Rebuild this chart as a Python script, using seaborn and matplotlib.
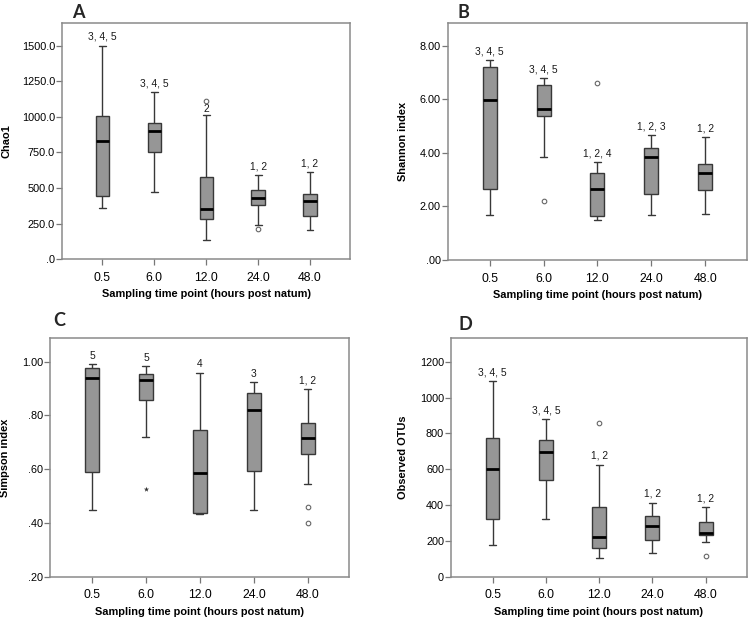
import pandas as pd
import seaborn as sns
import matplotlib.pyplot as plt

times = ["0.5", "6.0", "12.0", "24.0", "48.0"]

# A - Chao1 (whisker low, Q1, median, Q3, whisker high)
chao_lo = [357, 469, 138, 240, 203]
chao_q1 = [443, 756, 280, 382, 303]
chao_med = [830, 902, 354, 431, 408]
chao_q3 = [1005, 954, 578, 487, 455]
chao_hi = [1500, 1175, 1014, 592, 609]
chao_out_t = ["12.0", "24.0"]
chao_out_v = [1110, 212]
chao_sig = ["3, 4, 5", "3, 4, 5", "2", "1, 2", "1, 2"]

# B - Shannon
shan_lo = [1.69, 3.86, 1.50, 1.69, 1.73]
shan_q1 = [2.66, 5.40, 1.66, 2.45, 2.63]
shan_med = [5.99, 5.63, 2.67, 3.84, 3.25]
shan_q3 = [7.20, 6.55, 3.27, 4.20, 3.59]
shan_hi = [7.47, 6.80, 3.65, 4.67, 4.60]
shan_out_t = ["6.0", "12.0"]
shan_out_v = [2.22, 6.63]
shan_sig = ["3, 4, 5", "3, 4, 5", "1, 2, 4", "1, 2, 3", "1, 2"]

# C - Simpson
simp_lo = [0.447, 0.720, 0.432, 0.447, 0.546]
simp_q1 = [0.588, 0.857, 0.438, 0.595, 0.655]
simp_med = [0.941, 0.931, 0.584, 0.819, 0.717]
simp_q3 = [0.976, 0.956, 0.746, 0.885, 0.772]
simp_hi = [0.990, 0.983, 0.959, 0.923, 0.898]
simp_out_t = ["48.0", "48.0"]
simp_out_v = [0.458, 0.400]
simp_ext_t = ["6.0"]
simp_ext_v = [0.525]
simp_sig = ["5", "5", "4", "3", "1, 2"]

# D - Observed OTUs
otu_lo = [178, 321, 103, 135, 191]
otu_q1 = [321, 540, 163, 206, 231]
otu_med = [600, 694, 221, 281, 246]
otu_q3 = [776, 763, 388, 341, 306]
otu_hi = [1093, 881, 626, 414, 388]
otu_out_t = ["12.0", "48.0"]
otu_out_v = [857, 118]
otu_sig = ["3, 4, 5", "3, 4, 5", "1, 2", "1, 2", "1, 2"]

sns.set_theme(style="white")
plt.rcParams["font.family"] = ["Liberation Sans", "DejaVu Sans"]

W, H = 753, 621
fig = plt.figure(figsize=(W / 100, H / 100), dpi=100)


def box_df(lo, q1, med, q3, hi):
    rows = []
    for i, t in enumerate(times):
        for v in (lo[i], q1[i], med[i], q3[i], hi[i]):
            rows.append({"time": t, "value": v})
    return pd.DataFrame(rows)


def fmt(v, nd):
    s = f"{v:.{nd}f}"
    if s.startswith("0."):
        s = s[1:]
    return s


def panel(rect, letter, letter_xy, stats, out_t, out_v, sig, ylabel,
          ylim, yticks, nd, ylab_x, ext_t=None, ext_v=None):
    ax = fig.add_axes([rect[0] / W, 1 - rect[3] / H,
                       (rect[2] - rect[0]) / W, (rect[3] - rect[1]) / H])
    df = box_df(*stats)
    sns.boxplot(data=df, x="time", y="value", order=times, whis=(0, 100),
                width=0.26, color="#969696", saturation=1,
                linecolor="#383838", linewidth=1.0, fliersize=0,
                medianprops=dict(color="black", linewidth=2.0), ax=ax)
    sns.stripplot(x=out_t, y=out_v, order=times, jitter=False, marker="o",
                  size=3.3, color="white", edgecolor="#666666",
                  linewidth=0.8, ax=ax, zorder=4)
    if ext_t:
        sns.stripplot(x=ext_t, y=ext_v, order=times, jitter=False,
                      marker="*", size=4, color="#333333", ax=ax, zorder=4)
    hi = stats[4]
    span = ylim[1] - ylim[0]
    for i, t in enumerate(times):
        close = [v for tt, v in zip(out_t, out_v)
                 if tt == t and 0 < v - hi[i] < 0.1 * span]
        off = 4.2 if close else 6.3
        ax.annotate(sig[i], xy=(i, hi[i]), xytext=(0, off),
                    textcoords="offset points", ha="center", va="center",
                    fontsize=7.4, color="#1a1a1a")
    ax.set_xlim(-0.78, 4.77)
    ax.set_ylim(*ylim)
    ax.set_yticks(yticks)
    ax.set_yticklabels([fmt(v, nd) for v in yticks])
    ax.set_xticks(range(len(times)))
    ax.set_xticklabels(times)
    ax.tick_params(axis="y", labelsize=7.8, length=4, width=0.9,
                   color="#777777", labelcolor="black", pad=1, left=True,
                   direction="out")
    ax.tick_params(axis="x", labelsize=8.8, length=4, width=0.9,
                   color="#777777", labelcolor="black", pad=5, bottom=True,
                   direction="out")
    for s in ax.spines.values():
        s.set_color("#8a8a8a")
        s.set_linewidth(1.1)
    ax.set_xlabel("Sampling time point (hours post natum)", fontsize=7.9,
                  fontweight="bold", labelpad=4, color="black")
    ax.set_ylabel(ylabel, fontsize=7.9, fontweight="bold", color="black")
    ax.yaxis.set_label_coords(ylab_x, 0.5)
    fig.text(letter_xy[0] / W, 1 - letter_xy[1] / H, letter,
             fontsize=13, fontweight="bold", family=["Lato", "DejaVu Sans"],
             ha="center", va="center")
    return ax


panel((62, 22.7, 350, 259.3), "A", (78, 12),
      (chao_lo, chao_q1, chao_med, chao_q3, chao_hi), chao_out_t, chao_out_v,
      chao_sig, "Chao1", (0, 1660), [0, 250, 500, 750, 1000, 1250, 1500], 1,
      -0.174)
panel((447.7, 22.7, 746.7, 260), "B", (463, 13),
      (shan_lo, shan_q1, shan_med, shan_q3, shan_hi), shan_out_t, shan_out_v,
      shan_sig, "Shannon index", (0, 8.87), [0, 2, 4, 6, 8], 2, -0.133)
panel((50, 338.3, 349.3, 576.7), "C", (59, 321),
      (simp_lo, simp_q1, simp_med, simp_q3, simp_hi), simp_out_t, simp_out_v,
      simp_sig, "Simpson index", (0.2, 1.087), [0.2, 0.4, 0.6, 0.8, 1.0], 2,
      -0.134, ext_t=simp_ext_t, ext_v=simp_ext_v)
panel((451, 338.3, 746.7, 576.7), "D", (465, 325),
      (otu_lo, otu_q1, otu_med, otu_q3, otu_hi), otu_out_t, otu_out_v,
      otu_sig, "Observed OTUs", (0, 1331),
      [0, 200, 400, 600, 800, 1000, 1200], 0, -0.145)

fig.savefig("out.png", dpi=100)
